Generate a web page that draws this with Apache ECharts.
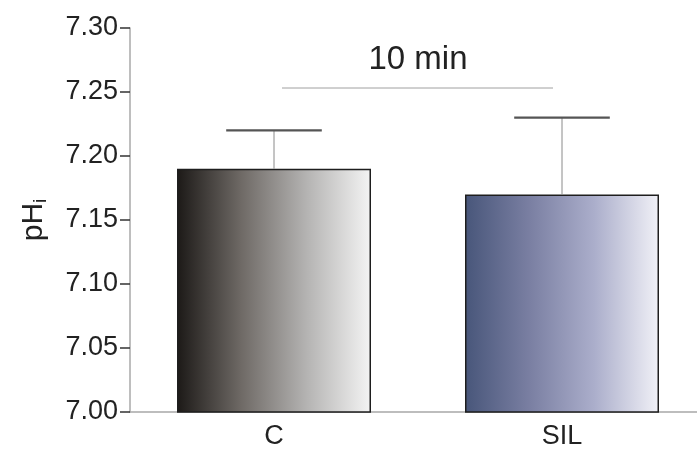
<!DOCTYPE html>
<html>
<head>
<meta charset="utf-8">
<script src="https://cdn.jsdelivr.net/npm/echarts@6/dist/echarts.min.js"></script>
<style>
  html, body { margin: 0; padding: 0; background: #fff; overflow: hidden; }
  /* canvas runs a little past the right edge so the x axis line reaches it */
  #chart { width: 720px; height: 450px; }
</style>
</head>
<body>
<div id="chart"></div>
<script>
// Intracellular pH at 10 min: control vs SIL
const categories = ['C', 'SIL'];
const meanValues = [7.19, 7.17];
const errorUpper = [7.22, 7.23];
const yTicks = [7.00, 7.05, 7.10, 7.15, 7.20, 7.25, 7.30];

const barGradients = [
  ['#1c1917', '#6f6a66', '#b4b3b2', '#f4f4f4'],
  ['#48567a', '#7a7fa2', '#abaecb', '#f1f1f7']
];

function gradient(stops) {
  return new echarts.graphic.LinearGradient(0, 0, 1, 0, stops.map((c, i) => ({
    offset: i / (stops.length - 1), color: c
  })));
}

const chart = echarts.init(document.getElementById('chart'));
const font = 'Liberation Sans, Arial, sans-serif';

chart.setOption({
  animation: false,
  grid: { left: 130, top: 28, bottom: 38, width: 576 },
  xAxis: {
    type: 'category',
    data: categories,
    axisLine: { lineStyle: { color: '#a8a8a8', width: 1.5 } },
    axisTick: { show: false },
    axisLabel: { color: '#222', fontSize: 27, fontFamily: font, margin: 11 }
  },
  yAxis: {
    type: 'value',
    min: yTicks[0],
    max: yTicks[yTicks.length - 1],
    interval: 0.05,
    splitLine: { show: false },
    axisLine: { show: true, lineStyle: { color: '#a8a8a8', width: 1.5 } },
    axisTick: { show: true, length: 10, lineStyle: { color: '#333', width: 1.5 } },
    axisLabel: {
      color: '#222', fontSize: 27, fontFamily: font, margin: 12,
      formatter: v => v.toFixed(2)
    },
    name: '{b|pH}{s|i}',
    nameLocation: 'middle',
    nameRotate: 90,
    nameGap: 80,
    nameTextStyle: {
      rich: {
        b: { fontSize: 30, fontFamily: font, color: '#222' },
        s: { fontSize: 19, fontFamily: font, color: '#222', verticalAlign: 'bottom', padding: [14, 0, 0, 0] }
      }
    }
  },
  series: [
    {
      type: 'bar',
      barWidth: 194,
      data: meanValues.map((v, i) => ({
        value: v,
        itemStyle: { color: gradient(barGradients[i]), borderColor: '#1e1e1e', borderWidth: 1.5 }
      })),
      z: 2
    },
    {
      type: 'custom',
      z: 3,
      data: categories.map((c, i) => [i, meanValues[i], errorUpper[i]]),
      renderItem: function (params, api) {
        const top = api.coord([api.value(0), api.value(2)]);
        const base = api.coord([api.value(0), api.value(1)]);
        const capHalf = api.size([1, 0])[0] * 0.166;
        return {
          type: 'group',
          children: [
            { type: 'line', shape: { x1: base[0], y1: base[1], x2: top[0], y2: top[1] },
              style: { stroke: '#8a8a8a', lineWidth: 1 } },
            { type: 'line', shape: { x1: top[0] - capHalf, y1: top[1], x2: top[0] + capHalf, y2: top[1] },
              style: { stroke: '#555', lineWidth: 2.2 } }
          ]
        };
      }
    }
  ],
  graphic: [
    { type: 'line', shape: { x1: 282, y1: 88, x2: 553, y2: 88 },
      style: { stroke: '#a0a0a0', lineWidth: 1 } },
    { type: 'text', x: 418, y: 60,
      style: { text: '10 min', fontSize: 33, fontFamily: font, fill: '#222', align: 'center', verticalAlign: 'middle' } }
  ]
});
</script>
</body>
</html>
